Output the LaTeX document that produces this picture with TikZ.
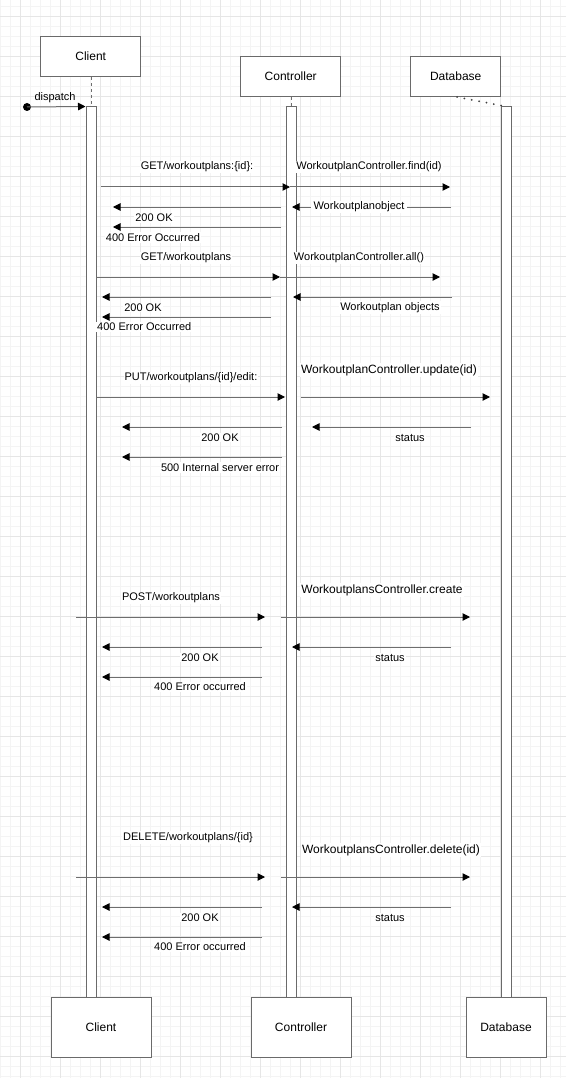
\documentclass[tikz,border=0pt]{standalone}
\usepackage{fontspec}
\setmainfont{Liberation Sans}
\usetikzlibrary{arrows.meta}
\definecolor{boxgray}{HTML}{6A6A6A}
\definecolor{linegray}{HTML}{6E6E6E}
\definecolor{minorgrid}{HTML}{F4F4F4}
\definecolor{majorgrid}{HTML}{E6E6E6}
\begin{document}
\begin{tikzpicture}[x=1pt,y=-1pt,
  box/.style={draw=boxgray, fill=white, line width=1pt, minimum width=100pt, minimum height=40pt, inner sep=0pt, font=\fontsize{12}{14}\selectfont},
  bar/.style={draw=boxgray, fill=white, line width=1pt, minimum width=10pt, minimum height=890pt, inner sep=0pt},
  msg/.style={draw=linegray, line width=1pt, -{Triangle[length=7.5pt,width=7.5pt,color=black]}},
  lbl/.style={font=\fontsize{11}{13}\selectfont, fill=white, inner sep=1pt, text=black},
  biglbl/.style={lbl, font=\fontsize{12}{14}\selectfont},
  life/.style={draw=linegray, line width=1pt, dash pattern=on 3pt off 3pt},
]
% background and grid
\useasboundingbox (0,0) rectangle (566,1078);
\fill[white] (0,0) rectangle (566,1078);
\foreach \x in {0.7,10.7,...,566} \draw[minorgrid, line width=0.8pt] (\x,0) -- (\x,1078);
\foreach \y in {6.7,16.7,...,1078} \draw[minorgrid, line width=0.8pt] (0,\y) -- (566,\y);
\foreach \x in {20.7,60.7,...,566} \draw[majorgrid, line width=1pt] (\x,0) -- (\x,1078);
\foreach \y in {16.7,56.7,...,1078} \draw[majorgrid, line width=1pt] (0,\y) -- (566,\y);

% activation bars
\node[bar] (cbar) at (91,552) {};
\node[bar] (kbar) at (291,552) {};
\node[bar] (dbar) at (506,552) {};

% head boxes
\node[box] (client) at (90.7,56.7) {Client};
\node[box] (ctrl) at (290.7,76.7) {Controller};
\node[box, minimum width=90pt] (db) at (455.7,76.7) {Database};

% foot boxes
\node[box, minimum height=60pt] (clientf) at (101,1027) {Client};
\node[box, minimum height=60pt] (ctrlf) at (301,1027) {Controller};
\node[box, minimum width=80pt, minimum height=60pt] (dbf) at (506,1027) {Database};

% lifeline links
\draw[life] (client.south -| cbar.north) -- (cbar.north);
\draw[life] (ctrl.south -| kbar.north) -- (kbar.north);
\coordinate (dbl) at (457,97);
\draw[black!75, line width=2pt, line cap=round, dash pattern=on 0pt off 7.5pt] (dbl) -- (dbar.north);

% dispatch
\fill[black] (27,107) circle (4pt);
\coordinate (dsp) at (27,107);
\draw[msg] (dsp) -- (cbar.north west);
\node[lbl, fill=none] (ldsp) at (55,97.5) {dispatch};

% messages: name / x start / x end / y
\foreach \n/\xa/\xb/\y in {
  1/101/290/187, 2/290/450/187, 3/451/292/207, 4/281/113/207, 5/281/113/227,
  6/96/280/277, 7/280/440/277, 8/452/293/297, 9/271/102/297, 10/271/102/317,
  11/96/285/397, 12/301/490/397, 13/471/312/427, 14/282/122/427, 15/282/122/457,
  16/76/265/617, 17/281/470/617, 18/451/292/647, 19/262/102/647, 20/262/102/677,
  21/76/265/877, 22/281/470/877, 23/451/292/907, 24/262/102/907, 25/262/102/937}
{
  \coordinate (s\n) at (\xa,\y);
  \coordinate (e\n) at (\xb,\y);
  \draw[msg] (s\n) -- (e\n);
}

% labels
\node[lbl] (l1) at (197,167) {GET/workoutplans:\{id\}:};
\node[lbl] (l2) at (369,167) {WorkoutplanController.find(id)};
\node[lbl, inner xsep=3pt] (l3) at (359,207) {Workoutplanobject};
\node[lbl] (l4) at (154,218) {200 OK};
\node[lbl] (l5) at (153,237.5) {400 Error Occurred};

\node[lbl] (l6) at (186,258) {GET/workoutplans};
\node[lbl] (l7) at (359,258) {WorkoutplanController.all()};
\node[lbl] (l8) at (390,307.5) {Workoutplan objects};
\node[lbl] (l9) at (143,307.5) {200 OK};
\node[lbl, anchor=west] (l10) at (96,327) {400 Error Occurred};

\node[lbl] (l11) at (191,378) {PUT/workoutplans/\{id\}/edit:};
\node[biglbl] (l12) at (389,370) {WorkoutplanController.update(id)};
\node[lbl] (l13) at (410,437.5) {status};
\node[lbl] (l14) at (220,437.5) {200 OK};
\node[lbl] (l15) at (220,467.5) {500 Internal server error};

\node[lbl] (l16) at (171,598) {POST/workoutplans};
\node[biglbl] (l17) at (382,590) {WorkoutplansController.create};
\node[lbl] (l18) at (390,657.5) {status};
\node[lbl] (l19) at (200,657.5) {200 OK};
\node[lbl] (l20) at (200,687) {400 Error occurred};

\node[lbl] (l21) at (188,837.5) {DELETE/workoutplans/\{id\}};
\node[biglbl] (l22) at (391,850) {WorkoutplansController.delete(id)};
\node[lbl] (l23) at (390,917.5) {status};
\node[lbl] (l24) at (200,917.5) {200 OK};
\node[lbl] (l25) at (200,947) {400 Error occurred};
\end{tikzpicture}
\end{document}
